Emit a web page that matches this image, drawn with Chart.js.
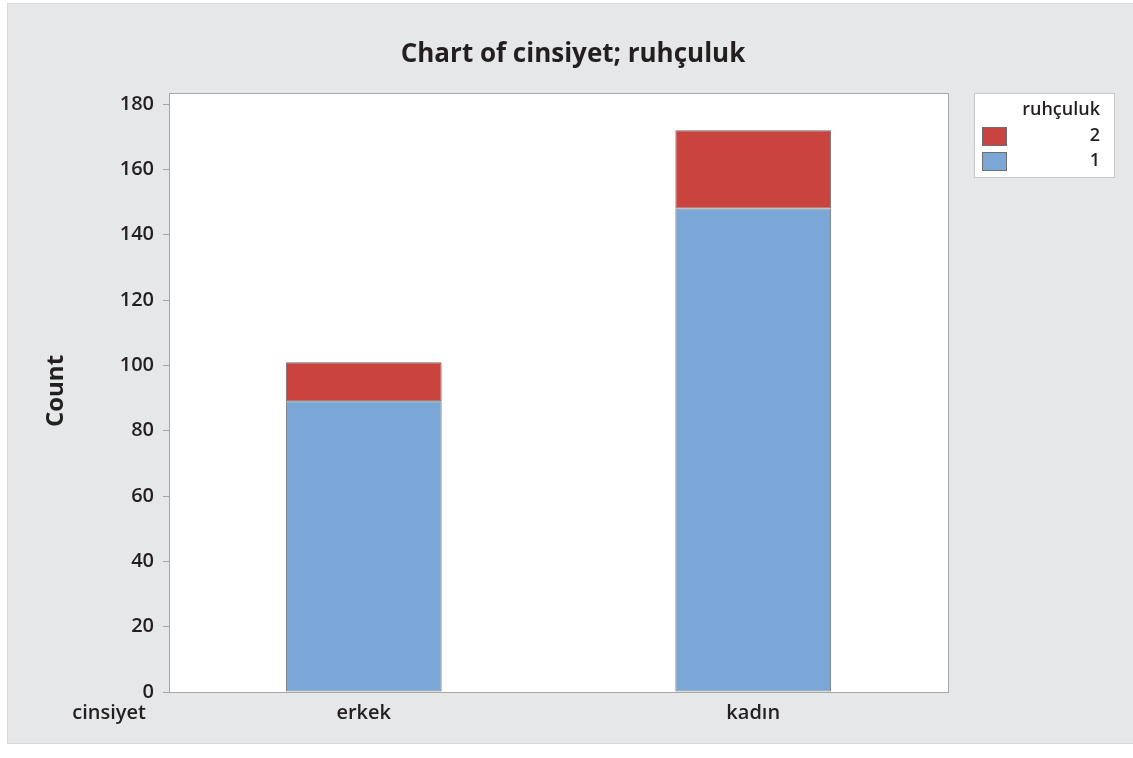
<!DOCTYPE html>
<html>
<head>
<meta charset="utf-8">
<script src="https://cdn.jsdelivr.net/npm/chart.js@4.4.1/dist/chart.umd.min.js"></script>
<style>
html,body{margin:0;padding:0;background:#ffffff;overflow:hidden;}
#wrap{position:relative;width:1133px;height:758px;}
</style>
</head>
<body>
<div id="wrap"><canvas id="c" width="1133" height="758"></canvas></div>
<script>
const categories = ['erkek', 'kadın'];
const legendTitle = 'ruhçuluk';
const seriesNames = ['1', '2'];
const series1 = [89, 148];
const series2 = [12, 24];
const yTicks = [0, 20, 40, 60, 80, 100, 120, 140, 160, 180];
const chartTitle = 'Chart of cinsiyet; ruhçuluk';
const yTitle = 'Count';
const xTitle = 'cinsiyet';

const FONT = '"Open Sans", "DejaVu Sans", sans-serif';
const COLORS = ['#7ba7d7', '#c9443f'];

const decor = {
  id: 'decor',
  beforeDraw(chart) {
    const ctx = chart.ctx, a = chart.chartArea;
    ctx.save();
    ctx.fillStyle = '#ffffff';
    ctx.fillRect(0, 0, chart.width, chart.height);
    ctx.fillStyle = '#e6e7e9';
    ctx.fillRect(7, 3, chart.width - 7, 741);
    ctx.strokeStyle = '#d6d7d9';
    ctx.lineWidth = 1;
    ctx.strokeRect(7.5, 3.5, chart.width - 7, 740);
    ctx.fillStyle = '#ffffff';
    ctx.fillRect(a.left, a.top, a.right - a.left, a.bottom - a.top);
    ctx.restore();
  },
  afterDraw(chart) {
    const ctx = chart.ctx, a = chart.chartArea;
    ctx.save();
    ctx.strokeStyle = '#a6a6a6';
    ctx.lineWidth = 1;
    ctx.strokeRect(Math.round(a.left) + 0.5, Math.round(a.top) + 0.5, Math.round(a.right - a.left), Math.round(a.bottom - a.top));
    ctx.fillStyle = '#231f20';
    ctx.textAlign = 'center';
    ctx.textBaseline = 'middle';
    ctx.font = 'bold 26px ' + FONT;
    ctx.fillText(chartTitle, 573, 55);
    ctx.font = 'bold 24px ' + FONT;
    ctx.save();
    ctx.translate(56, 391);
    ctx.rotate(-Math.PI / 2);
    ctx.fillText(yTitle, 0, 0);
    ctx.restore();
    ctx.font = '600 20px ' + FONT;
    ctx.textAlign = 'right';
    ctx.fillText(xTitle, 146, 713);
    // legend
    const lx = 974, ly = 93, lw = 140, lh = 84;
    ctx.fillStyle = '#ffffff';
    ctx.fillRect(lx, ly, lw, lh);
    ctx.strokeStyle = '#c8c8c8';
    ctx.strokeRect(lx + 0.5, ly + 0.5, lw, lh);
    ctx.fillStyle = '#231f20';
    ctx.font = '600 18px ' + FONT;
    ctx.textAlign = 'right';
    ctx.fillText(legendTitle, 1100, 110);
    const ds = chart.data.datasets.slice().reverse();
    ds.forEach((d, i) => {
      const y = 127 + i * 25;
      ctx.fillStyle = d.backgroundColor;
      ctx.fillRect(982, y, 25, 19);
      ctx.strokeStyle = '#6e6e6e';
      ctx.strokeRect(982.5, y + 0.5, 24, 18);
      ctx.fillStyle = '#231f20';
      ctx.fillText(d.label, 1100, y + 9);
    });
    ctx.restore();
  }
};

new Chart(document.getElementById('c'), {
  type: 'bar',
  data: {
    labels: categories,
    datasets: [
      { label: seriesNames[0], data: series1, backgroundColor: COLORS[0], borderColor: '#6f6f6f', borderWidth: 1, barPercentage: 0.4, categoryPercentage: 1, borderSkipped: false },
      { label: seriesNames[1], data: series2, backgroundColor: COLORS[1], borderColor: '#6f6f6f', borderWidth: 1, barPercentage: 0.4, categoryPercentage: 1, borderSkipped: false }
    ]
  },
  options: {
    responsive: false,
    animation: false,
    layout: { padding: { left: 40, right: 185, top: 93, bottom: 36 } },
    plugins: { legend: { display: false }, title: { display: false }, tooltip: { enabled: false } },
    scales: {
      x: {
        stacked: true,
        grid: { display: false, drawTicks: false },
        border: { display: false },
        ticks: { color: '#231f20', font: { family: FONT, size: 20, weight: '600' }, padding: 9 },
        afterFit(s) { s.height = 30; }
      },
      y: {
        stacked: true,
        min: 0,
        max: 183.4,
        afterBuildTicks(s) { s.ticks = yTicks.map(v => ({ value: v })); },
        grid: { drawOnChartArea: false, drawTicks: true, tickLength: 6, color: '#a6a6a6' },
        border: { display: false },
        ticks: { color: '#231f20', font: { family: FONT, size: 20, weight: '600' }, padding: 9 },
        afterFit(s) { s.width = 129; }
      }
    }
  },
  plugins: [decor]
});
</script>
</body>
</html>
